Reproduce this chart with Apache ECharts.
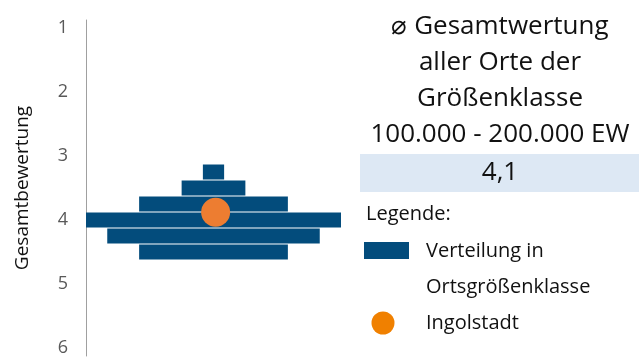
<!DOCTYPE html>
<html>
<head>
<meta charset="utf-8">
<script src="https://cdn.jsdelivr.net/npm/echarts@6/dist/echarts.min.js"></script>
<style>
  html, body { margin: 0; padding: 0; background: #fff; }
  #chart { width: 639px; height: 359px; }
</style>
</head>
<body>
<div id="chart"></div>
<script>
// Rating bins (school-grade scale) and number of towns per bin
const ratingBins = [3.25, 3.5, 3.75, 4.0, 4.25, 4.5];
const townCounts = [1, 3, 7, 12, 10, 7];

// Highlighted town
const cityName = 'Ingolstadt';
const cityRating = 3.88;

// Class average shown in the side panel
const classAverage = '4,1';
const headingLines = ['\u2300 Gesamtwertung', 'aller Orte der', 'Größenklasse', '100.000 - 200.000 EW'];

// Axis ticks
const ratingTicks = [1, 2, 3, 4, 5, 6];

const BAR_COLOR = '#034C7C';
const DOT_COLOR = '#ED7D31';
const FONT = '"Open Sans", "Noto Sans", sans-serif';
const binHalf = 0.125;

const chart = echarts.init(document.getElementById('chart'), null, { renderer: 'canvas' });

const distData = ratingBins.map((b, i) => [b, townCounts[i]]);

// Side panel: heading, average box and legend
const graphic = [];
headingLines.forEach((t, i) => {
  graphic.push({
    type: 'text', x: 500, y: 27 + i * 36,
    style: { text: t, font: '26px ' + FONT, fill: '#111', align: 'center', verticalAlign: 'middle' }
  });
});
graphic.push(
  { type: 'rect', shape: { x: 360, y: 154, width: 279, height: 38 }, style: { fill: '#DDE8F4' } },
  { type: 'text', x: 500, y: 173, style: { text: classAverage, font: '26px ' + FONT, fill: '#111', align: 'center', verticalAlign: 'middle' } },
  { type: 'text', x: 366, y: 214, style: { text: 'Legende:', font: '20px ' + FONT, fill: '#111', align: 'left', verticalAlign: 'middle' } },
  { type: 'rect', shape: { x: 364, y: 242, width: 45, height: 17 }, style: { fill: BAR_COLOR } },
  { type: 'text', x: 426, y: 251, style: { text: 'Verteilung in', font: '20px ' + FONT, fill: '#111', align: 'left', verticalAlign: 'middle' } },
  { type: 'text', x: 426, y: 287, style: { text: 'Ortsgrößenklasse', font: '20px ' + FONT, fill: '#111', align: 'left', verticalAlign: 'middle' } },
  { type: 'circle', shape: { cx: 383, cy: 323, r: 11.5 }, style: { fill: '#F08000' } },
  { type: 'text', x: 426, y: 323, style: { text: cityName, font: '20px ' + FONT, fill: '#111', align: 'left', verticalAlign: 'middle' } }
);

chart.setOption({
  animation: false,
  grid: { left: 86, top: 20, width: 255, height: 336, containLabel: false },
  xAxis: {
    type: 'value', min: -6, max: 6,
    show: false
  },
  yAxis: {
    type: 'value', inverse: true, min: 0.875, max: 6.125,
    name: 'Gesamtbewertung', nameLocation: 'middle', nameGap: 54,
    nameTextStyle: { fontFamily: FONT, fontSize: 19, color: '#111' },
    axisLine: { show: true, onZero: false, lineStyle: { color: '#A0A0A0', width: 1 } },
    axisTick: { show: false },
    splitLine: { show: false },
    axisLabel: {
      customValues: ratingTicks, margin: 18,
      fontFamily: FONT, fontSize: 18, color: '#595959'
    }
  },
  series: [
    {
      type: 'custom',
      name: 'Verteilung in Ortsgrößenklasse',
      data: distData,
      encode: { y: 0, x: 1 },
      renderItem: function (params, api) {
        const v = api.value(0), n = api.value(1);
        const p0 = api.coord([-n / 2, v - binHalf]);
        const p1 = api.coord([n / 2, v + binHalf]);
        return {
          type: 'rect',
          shape: { x: p0[0], y: p0[1] + 0.5, width: p1[0] - p0[0], height: p1[1] - p0[1] - 1 },
          style: { fill: BAR_COLOR }
        };
      },
      z: 1
    },
    {
      type: 'scatter',
      name: cityName,
      data: [[0.1, cityRating]],
      symbolSize: 29,
      itemStyle: { color: DOT_COLOR, opacity: 1 },
      z: 3
    }
  ],
  graphic: graphic
});
</script>
</body>
</html>
